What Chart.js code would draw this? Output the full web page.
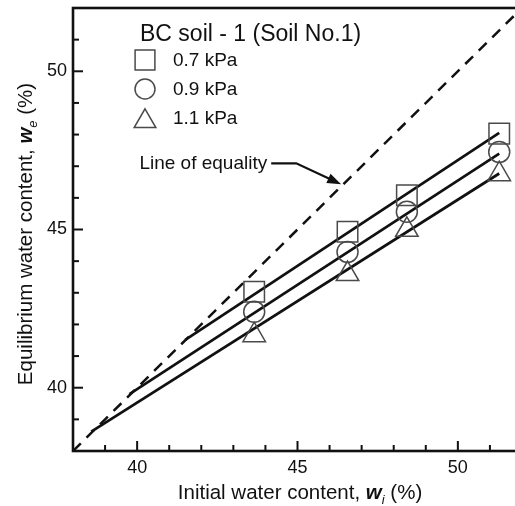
<!DOCTYPE html>
<html>
<head>
<meta charset="utf-8">
<script src="https://cdn.jsdelivr.net/npm/chart.js"></script>
<style>
  html, body { margin: 0; padding: 0; background: #fff; overflow: hidden; }
  #wrap { width: 530px; height: 506px; }
</style>
</head>
<body>
<div id="wrap"><canvas id="chart" width="530" height="506" style="width:530px;height:506px"></canvas></div>
<script>
// values
const pressures = ['0.7 kPa', '0.9 kPa', '1.1 kPa'];
const initialWc = [43.65, 46.56, 48.41, 51.29];
const eqWc07 = [43.03, 44.93, 46.08, 48.03];
const eqWc09 = [42.40, 44.29, 45.56, 47.45];
const eqWc11 = [41.66, 43.59, 44.99, 46.75];

// fitted lines (start / end)
const fitX07 = [41.50, 51.29], fitY07 = [41.51, 48.05];
const fitX09 = [39.76, 51.29], fitY09 = [39.80, 47.40];
const fitX11 = [38.57, 51.29], fitY11 = [38.61, 46.77];

const equality = [38, 52];
const axisMin = 38, axisMax = 52;
const majorEvery = 5;

const FONT = "'Liberation Sans', Arial, Helvetica, sans-serif";
const INK = '#111';
const MARK = '#4a4a4a';

const xy = (xs, ys) => xs.map((x, i) => ({ x: x, y: ys[i] }));

function pointSet(label, ys, style, r) {
  return {
    label: label,
    data: xy(initialWc, ys),
    showLine: false,
    pointStyle: style,
    pointRadius: r,
    pointBorderColor: MARK,
    pointBackgroundColor: 'rgba(0,0,0,0)',
    pointBorderWidth: 1.5
  };
}
function lineSet(xs, ys, dash) {
  return {
    label: '',
    data: xy(xs, ys),
    showLine: true,
    borderColor: INK,
    borderWidth: dash ? 2.5 : 2.7,
    borderDash: dash || [],
    pointRadius: 0,
    fill: false
  };
}

function drawMarker(ctx, style, r, x, y) {
  ctx.save();
  ctx.strokeStyle = MARK;
  ctx.fillStyle = 'rgba(0,0,0,0)';
  ctx.lineWidth = 1.5;
  if (Chart.helpers && Chart.helpers.drawPoint) {
    Chart.helpers.drawPoint(ctx, { pointStyle: style, radius: r, borderWidth: 1.5, rotation: 0 }, x, y);
  }
  ctx.restore();
}

// no extra room for the (empty) end labels
function fixPadding(s) {
  s.paddingTop = 0; s.paddingBottom = 0; s.paddingLeft = 0; s.paddingRight = 0;
}

// frame, inward ticks, legend, axis titles, annotation
const decorations = {
  id: 'decorations',
  afterDraw(chart) {
    const ctx = chart.ctx;
    const a = chart.chartArea;
    const xs = chart.scales.x, ys = chart.scales.y;
    ctx.save();

    // inward ticks
    ctx.strokeStyle = INK;
    ctx.lineWidth = 2;
    xs.ticks.forEach(t => {
      const px = xs.getPixelForValue(t.value);
      const len = t.value % majorEvery === 0 ? 10 : 6;
      ctx.beginPath(); ctx.moveTo(px, a.bottom); ctx.lineTo(px, a.bottom - len); ctx.stroke();
    });
    ys.ticks.forEach(t => {
      const py = ys.getPixelForValue(t.value);
      const len = t.value % majorEvery === 0 ? 10 : 6;
      ctx.beginPath(); ctx.moveTo(a.left, py); ctx.lineTo(a.left + len, py); ctx.stroke();
    });

    // frame
    ctx.lineWidth = 2.6;
    ctx.strokeRect(a.left, a.top, a.right - a.left, a.bottom - a.top);

    // legend
    const lx = a.left + 67;
    ctx.fillStyle = INK;
    ctx.textBaseline = 'middle';
    ctx.textAlign = 'left';
    ctx.font = '23px ' + FONT;
    ctx.fillText('BC soil - 1 (Soil No.1)', lx, a.top + 27);
    ctx.font = '19px ' + FONT;
    const rows = [52, 81, 110];
    chart.data.datasets.slice(0, 3).forEach((ds, i) => {
      const cy = a.top + rows[i];
      const off = ds.pointStyle === 'triangle' ? ds.pointRadius / 4 : 0;
      drawMarker(ctx, ds.pointStyle, ds.pointRadius - 0.5, lx + 5, cy + off);
      ctx.fillStyle = INK;
      ctx.fillText(ds.label, lx + 33, cy + 1);
    });

    // annotation "Line of equality"
    ctx.font = '19px ' + FONT;
    const tx = xs.getPixelForValue(40.07), ty = ys.getPixelForValue(47.09);
    ctx.fillText('Line of equality', tx, ty);
    const w = ctx.measureText('Line of equality').width;
    const kx = xs.getPixelForValue(44.96);
    const tipX = xs.getPixelForValue(46.36), tipY = ys.getPixelForValue(46.43);
    ctx.lineWidth = 2.2;
    ctx.beginPath();
    ctx.moveTo(tx + w + 4, ty);
    ctx.lineTo(kx, ty);
    const ang = Math.atan2(tipY - ty, tipX - kx);
    ctx.lineTo(tipX - 10 * Math.cos(ang), tipY - 10 * Math.sin(ang));
    ctx.stroke();
    ctx.beginPath();
    ctx.moveTo(tipX, tipY);
    ctx.lineTo(tipX - 14 * Math.cos(ang) + 5 * Math.sin(ang), tipY - 14 * Math.sin(ang) - 5 * Math.cos(ang));
    ctx.lineTo(tipX - 14 * Math.cos(ang) - 5 * Math.sin(ang), tipY - 14 * Math.sin(ang) + 5 * Math.cos(ang));
    ctx.closePath();
    ctx.fill();

    // axis titles with italic symbol and subscript
    function titleParts(base, sub) {
      return [
        { t: base, f: '20.5px ' + FONT, dy: 0 },
        { t: 'w', f: 'italic bold 20.5px ' + FONT, dy: 0 },
        { t: sub, f: 'italic 13px ' + FONT, dy: 5 },
        { t: ' (%)', f: '20.5px ' + FONT, dy: 0 }
      ];
    }
    function drawParts(parts, cx, cy) {
      let total = 0;
      parts.forEach(p => { ctx.font = p.f; p.w = ctx.measureText(p.t).width; total += p.w; });
      let x = cx - total / 2;
      ctx.textAlign = 'left';
      ctx.textBaseline = 'alphabetic';
      parts.forEach(p => { ctx.font = p.f; ctx.fillText(p.t, x, cy + p.dy); x += p.w; });
    }
    ctx.fillStyle = INK;
    drawParts(titleParts('Initial water content, ', 'i'), 300, 499);
    ctx.save();
    ctx.translate(32, 234);
    ctx.rotate(-Math.PI / 2);
    drawParts(titleParts('Equilibrium water content, ', 'e'), 0, 0);
    ctx.restore();

    ctx.restore();
  }
};

const ctx = document.getElementById('chart').getContext('2d');
new Chart(ctx, {
  type: 'scatter',
  data: {
    datasets: [
      pointSet(pressures[0], eqWc07, 'rect', 14.5),
      pointSet(pressures[1], eqWc09, 'circle', 10.5),
      pointSet(pressures[2], eqWc11, 'triangle', 13),
      lineSet(fitX07, fitY07),
      lineSet(fitX09, fitY09),
      lineSet(fitX11, fitY11),
      lineSet(equality, equality, [11, 8])
    ]
  },
  options: {
    responsive: false,
    animation: false,
    devicePixelRatio: 1,
    layout: { autoPadding: false, padding: { left: 0, top: 8, right: 8, bottom: 0 } },
    plugins: { legend: { display: false }, tooltip: { enabled: false } },
    scales: {
      x: {
        type: 'linear', min: axisMin, max: axisMax,
        grid: { display: false, drawTicks: false },
        border: { display: false },
        ticks: {
          stepSize: 1, padding: 6, color: INK, autoSkip: false, maxRotation: 0,
          font: { family: FONT, size: 18 },
          callback: v => (v % majorEvery === 0 && v > axisMin && v < axisMax ? String(v) : '')
        },
        afterFit: s => { s.height = 55; fixPadding(s); }
      },
      y: {
        type: 'linear', min: axisMin, max: axisMax,
        grid: { display: false, drawTicks: false },
        border: { display: false },
        ticks: {
          stepSize: 1, padding: 6, color: INK, autoSkip: false,
          font: { family: FONT, size: 18 },
          callback: v => (v % majorEvery === 0 && v > axisMin && v < axisMax ? String(v) : '')
        },
        afterFit: s => { s.width = 73; fixPadding(s); }
      }
    }
  },
  plugins: [decorations]
});
</script>
</body>
</html>
